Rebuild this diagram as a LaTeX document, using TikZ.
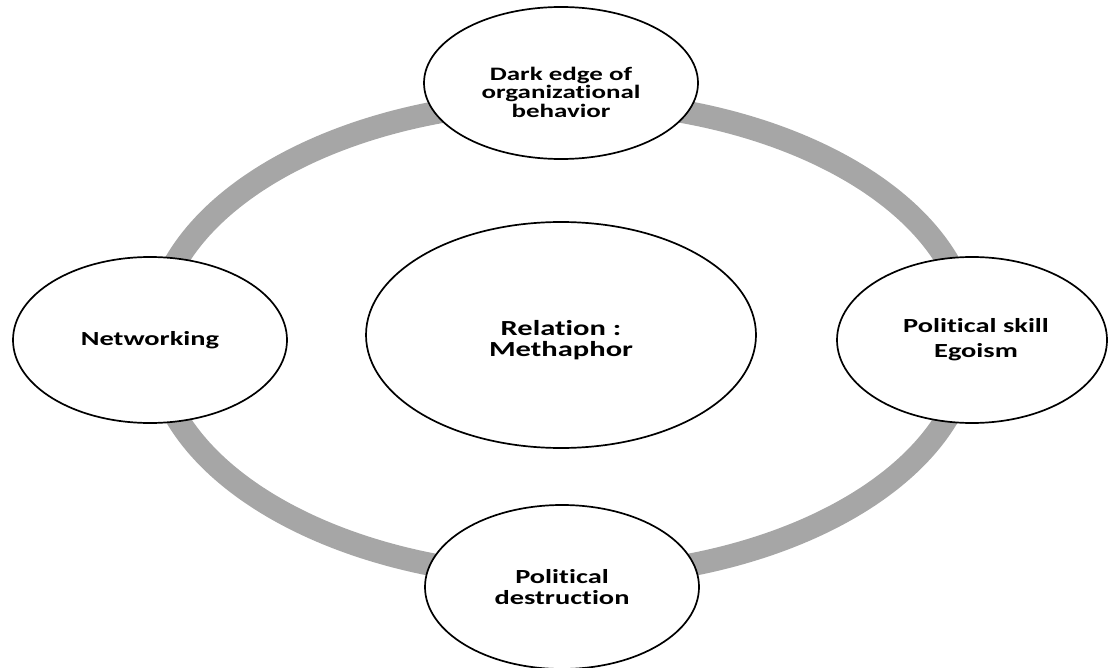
\documentclass[tikz,border=0pt]{standalone}
\usepackage{fontspec}
\newfontfamily\labfont[FakeStretch=1.42, Ligatures=NoCommon]{Carlito}
\usetikzlibrary{shapes.geometric}
\definecolor{ringgray}{HTML}{A6A6A6}
\begin{document}
\begin{tikzpicture}[x=1pt,y=-1pt,
  bubble/.style={ellipse, draw=black, line width=1.7pt, fill=white, inner sep=0pt},
  lab/.style={align=center, inner sep=0pt, text=black, font=\labfont\bfseries\fontsize{20}{25}\selectfont},
  ring/.style={draw=ringgray, line width=23pt}]
\useasboundingbox (0,0) rectangle (1108,668);
% gray ring behind the bubbles
\draw[ring] (562,339) ellipse [x radius=408pt, y radius=238pt];
% bubbles
\node[bubble, minimum width=274pt, minimum height=152pt] (top) at (561,83) {};
\node[bubble, minimum width=274pt, minimum height=166pt] (left) at (150,340) {};
\node[bubble, minimum width=270pt, minimum height=166pt] (right) at (972,340) {};
\node[bubble, minimum width=274pt, minimum height=164pt] (bottom) at (562,587) {};
\node[bubble, minimum width=390pt, minimum height=226pt] (center) at (561,335) {};
% labels
\node[lab, font=\labfont\bfseries\fontsize{19}{18.5}\selectfont] (toptext) at ([yshift=-9pt]top.center) {Dark edge of\\organizational\\behavior};
\node[lab] (lefttext) at (left.center) {Networking};
\node[lab] (righttext) at ([xshift=4pt]right.center) {Political skill\\Egoism};
\node[lab, font=\labfont\bfseries\fontsize{20}{20.5}\selectfont] (bottomtext) at (bottom.center) {Political\\destruction};
\node[lab, font=\labfont\bfseries\fontsize{21.5}{21.5}\selectfont] (centertext) at ([yshift=-5pt]center.center) {Relation :\\Methaphor};
\end{tikzpicture}
\end{document}
